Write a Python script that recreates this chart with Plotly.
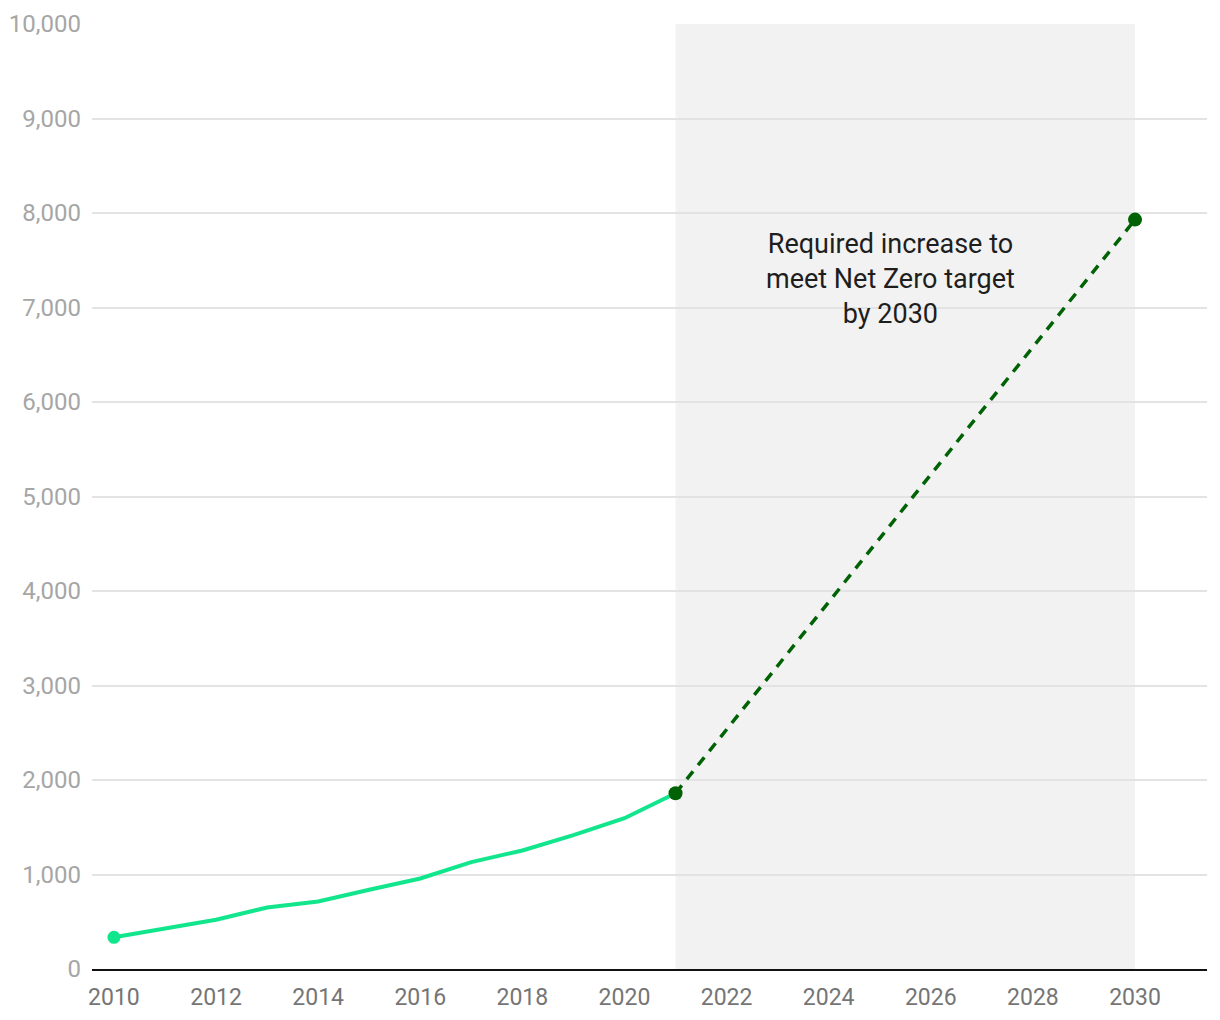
import plotly.graph_objects as go

years = [2010, 2011, 2012, 2013, 2014, 2015, 2016, 2017, 2018, 2019, 2020, 2021]
values = [335, 430, 521, 651, 715, 838, 958, 1131, 1254, 1416, 1596, 1860]
target_years = [2021, 2030]
target_values = [1860, 7930]
shade_range = [2021, 2030]
annotation_text = "Required increase to<br>meet Net Zero target<br>by 2030"
x_ticks = list(range(2010, 2031, 2))
y_ticks = list(range(0, 10001, 1000))

BRIGHT = "#12e68c"
DARK = "#006205"

fig = go.Figure()

fig.add_trace(go.Scatter(
    x=years, y=values, mode="lines",
    line=dict(color=BRIGHT, width=4),
    hoverinfo="skip", showlegend=False, cliponaxis=False))
fig.add_trace(go.Scatter(
    x=[years[0]], y=[values[0]], mode="markers",
    marker=dict(color=BRIGHT, size=13),
    hoverinfo="skip", showlegend=False, cliponaxis=False))
fig.add_trace(go.Scatter(
    x=target_years, y=target_values, mode="lines+markers",
    line=dict(color=DARK, width=3.5, dash="10px,8px"),
    marker=dict(color=DARK, size=14),
    hoverinfo="skip", showlegend=False, cliponaxis=False))

fig.add_shape(type="rect", xref="x", yref="paper",
              x0=shade_range[0], x1=shade_range[1], y0=0, y1=1,
              fillcolor="#f2f2f2", line=dict(width=0), layer="below")

fig.add_annotation(x=2025.22, y=7300, text=annotation_text, showarrow=False,
                   font=dict(family="Roboto", size=27, color="#1e1e1e"),
                   align="center")

fig.update_layout(
    width=1204, height=1004,
    margin=dict(l=84, r=5, t=16, b=43, autoexpand=False),
    plot_bgcolor="white", paper_bgcolor="white",
    font=dict(family="Roboto"),
)
fig.update_xaxes(range=[2009.57, 2031.41], tickvals=x_ticks,
                 ticktext=[str(t) for t in x_ticks],
                 showgrid=False, zeroline=False, automargin=False,
                 showline=True, linecolor="#111", linewidth=2,
                 ticks="", ticklabelstandoff=6,
                 tickfont=dict(family="Roboto", size=23, color="#757575"))
fig.update_yaxes(range=[0, 10000], tickvals=y_ticks,
                 ticktext=[f"{t:,}" for t in y_ticks],
                 showgrid=True, gridcolor="#e3e3e3", gridwidth=1.5,
                 zeroline=False, showline=False, ticks="", automargin=False,
                 ticklabelstandoff=10,
                 tickfont=dict(family="Roboto", size=24, color="#a6a6a6"))

fig.write_html("out.html")
